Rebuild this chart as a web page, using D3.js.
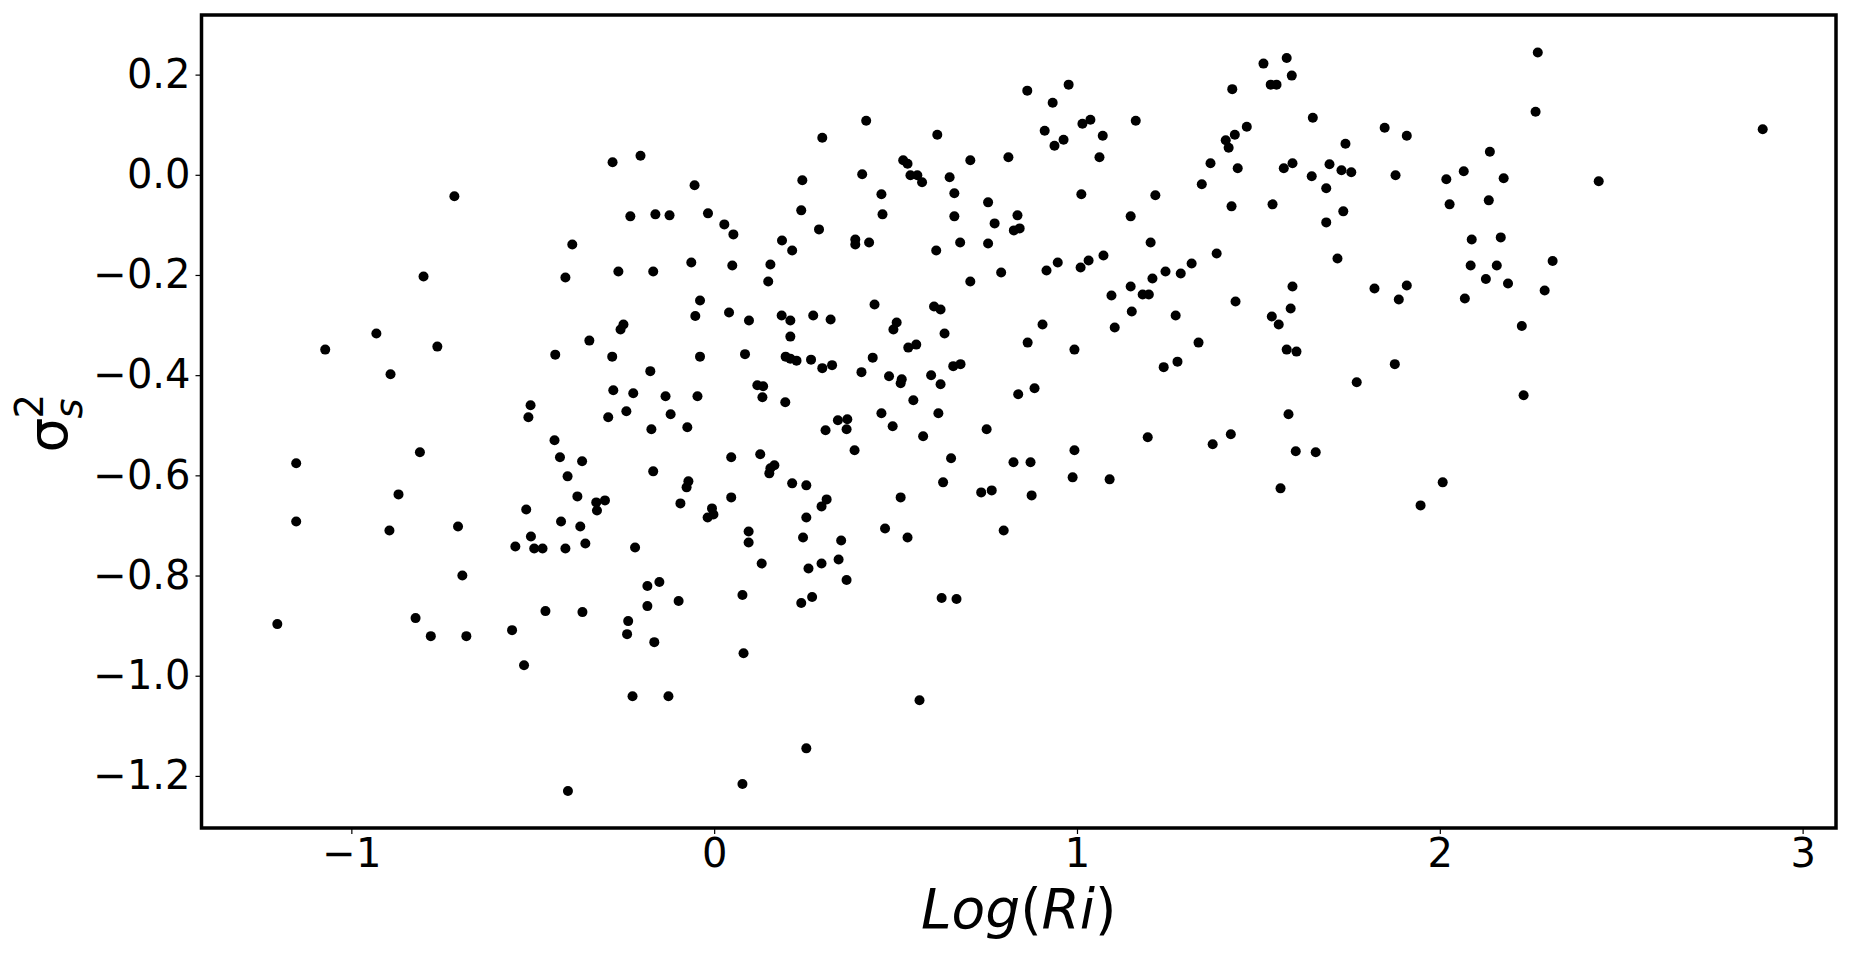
<!DOCTYPE html>
<html><head><meta charset="utf-8">
<script src="https://cdn.jsdelivr.net/npm/d3@7"></script>
<style>body{margin:0;background:#fff}svg{display:block}</style>
</head><body>
<svg id="chart" width="1850" height="955"></svg>
<script>
// Log(Ri) values
const logRi = [
-0.716,-0.391,-0.801,-0.410,-0.931,-1.072,-0.763,-0.892,-0.344,-0.438,-0.281,-0.278,-0.506,-0.512,-0.292,
0.419,0.298,0.615,-0.203,-0.280,0.706,0.811,0.408,0.521,0.533,0.541,0.560,0.573,0.649,0.243,-0.054,0.461,0.662,0.755,0.240,-0.231,-0.162,-0.123,-0.017,0.464,0.662,
0.836,0.826,0.842,0.028,0.053,0.289,0.773,0.187,0.215,0.389,0.389,0.427,0.678,0.755,0.612,-0.264,-0.168,-0.063,0.050,0.155,0.149,0.706,0.791,-0.039,-0.052,0.041,
0.096,0.186,0.210,0.210,0.273,0.321,0.442,0.606,0.624,0.503,0.494,0.635,-0.250,-0.258,-0.039,0.085,0.197,0.210,0.227,0.267,0.298,0.325,0.437,0.535,0.557,
0.659,0.679,-0.176,0.406,0.482,0.517,0.514,0.598,0.624,-0.223,-0.134,-0.046,0.119,0.135,0.133,0.196,0.549,0.838,-0.242,-0.120,0.341,0.367,0.461,0.618,
1.578,1.514,1.592,1.534,1.550,1.428,0.863,0.977,0.933,1.650,
1.162,1.015,1.037,0.911,0.963,0.938,1.071,1.062,1.468,1.435,
1.410,1.418,1.848,1.909,1.740,1.368,1.443,1.570,1.594,1.696,
1.729,1.756,1.647,1.878,1.344,1.687,1.012,1.216,1.426,1.539,
1.734,1.687,1.148,1.203,1.385,1.718,0.916,0.947,1.010,1.032,
1.073,1.244,1.208,1.286,1.316,1.148,1.181,1.198,1.095,1.151,
1.104,1.272,1.437,1.594,1.589,1.537,1.556,1.820,1.909,1.887,
0.905,0.864,0.993,1.335,1.239,1.277,1.578,1.605,1.876,1.771,
0.883,1.583,
2.270,2.264,2.890,2.138,2.066,2.018,2.176,2.438,2.027,2.135,2.088,2.168,2.311,2.085,2.157,2.127,2.188,2.289,2.069,2.226,2.231,
-0.440,-1.152,-0.811,-0.425,-0.364,-0.404,-0.870,-0.377,-0.325,-0.301,-0.323,-0.518,-1.152,-0.895,-0.706,-0.422,-0.369,-0.505,-0.548,-0.496,-0.473,-0.410,-0.355,-0.694,-1.204,-0.823,-0.781,-0.683,-0.557,-0.465,-0.363,-0.524,-0.403,
-0.173,-0.074,0.307,0.365,0.492,0.576,0.751,0.387,0.047,0.127,0.166,0.155,0.152,0.653,0.825,-0.168,-0.071,-0.076,-0.093,0.215,0.254,0.047,-0.006,-0.002,-0.018,0.310,0.296,0.254,0.631,0.514,0.736,0.765,-0.218,0.095,0.095,0.245,0.350,0.471,0.533,0.798,0.131,0.260,0.296,0.343,0.365,-0.184,-0.151,-0.098,-0.184,0.078,0.240,0.270,0.627,0.668,-0.237,-0.240,-0.165,0.081,-0.225,-0.126,0.566,0.254,0.078,
0.872,0.875,0.993,0.988,1.090,1.195,1.374,1.424,1.603,1.658,1.561,1.947,2.008
];
// sigma_s^2 values
const sigma2 = [
-0.043,-0.139,-0.203,-0.205,-0.317,-0.349,-0.343,-0.398,-0.331,-0.359,-0.363,-0.430,-0.460,-0.484,-0.484,
0.108,0.074,0.080,0.038,0.025,0.029,0.035,0.001,0.029,0.022,-0.001,-0.001,-0.015,-0.005,-0.011,-0.021,-0.039,-0.037,-0.055,-0.071,-0.083,-0.079,-0.081,-0.077,-0.079,-0.083,
-0.081,-0.111,-0.107,-0.099,-0.119,-0.109,-0.097,-0.131,-0.151,-0.129,-0.139,-0.135,-0.135,-0.137,-0.151,-0.193,-0.193,-0.175,-0.181,-0.179,-0.213,-0.213,-0.195,-0.251,-0.282,-0.275,
-0.291,-0.281,-0.291,-0.323,-0.281,-0.289,-0.259,-0.263,-0.269,-0.295,-0.309,-0.317,-0.299,-0.309,-0.363,-0.358,-0.363,-0.367,-0.371,-0.369,-0.386,-0.380,-0.365,-0.345,-0.339,
-0.382,-0.378,-0.392,-0.394,-0.402,-0.408,-0.416,-0.400,-0.418,-0.436,-0.442,-0.442,-0.420,-0.422,-0.444,-0.454,-0.450,-0.438,-0.472,-0.478,-0.490,-0.488,-0.476,-0.476,
0.233,0.222,0.198,0.180,0.180,0.171,0.168,0.180,0.144,0.114,
0.108,0.102,0.110,0.088,0.070,0.058,0.078,0.035,0.096,0.080,
0.069,0.054,0.094,0.078,0.062,0.023,0.013,0.013,0.023,0.021,
0.009,0.005,-0.003,-0.001,-0.019,-0.027,-0.039,-0.041,-0.063,-0.059,
-0.073,-0.095,-0.083,-0.135,-0.157,-0.167,-0.191,-0.175,-0.185,-0.171,
-0.161,-0.193,-0.207,-0.197,-0.177,-0.223,-0.239,-0.239,-0.241,-0.273,
-0.305,-0.281,-0.253,-0.223,-0.267,-0.283,-0.299,-0.227,-0.221,-0.249,
-0.299,-0.335,-0.349,-0.335,-0.384,-0.373,-0.349,-0.353,-0.378,-0.414,
-0.426,-0.478,
0.244,0.126,0.091,0.046,0.007,-0.009,-0.007,-0.013,-0.059,-0.051,-0.129,-0.125,-0.172,-0.181,-0.181,-0.208,-0.217,-0.231,-0.247,-0.302,-0.440,
-0.530,-0.576,-0.554,-0.564,-0.572,-0.602,-0.638,-0.642,-0.654,-0.650,-0.670,-0.668,-0.692,-0.710,-0.702,-0.692,-0.702,-0.722,-0.742,-0.746,-0.746,-0.746,-0.736,-0.800,-0.897,-0.885,-0.921,-0.921,-0.909,-0.871,-0.873,-0.979,-1.230,
-0.508,-0.504,-0.510,-0.508,-0.502,-0.522,-0.508,-0.550,-0.564,-0.558,-0.580,-0.586,-0.596,-0.566,-0.574,-0.592,-0.612,-0.624,-0.656,-0.616,-0.620,-0.644,-0.666,-0.678,-0.684,-0.648,-0.662,-0.684,-0.614,-0.644,-0.634,-0.630,-0.744,-0.712,-0.734,-0.724,-0.730,-0.706,-0.724,-0.710,-0.776,-0.786,-0.776,-0.768,-0.809,-0.821,-0.813,-0.851,-0.861,-0.839,-0.855,-0.843,-0.845,-0.847,-0.891,-0.917,-0.933,-0.955,-1.041,-1.041,-1.049,-1.145,-1.216,
-0.574,-0.640,-0.550,-0.604,-0.608,-0.524,-0.538,-0.518,-0.552,-0.554,-0.626,-0.660,-0.614
];
const xTicks = [-1, 0, 1, 2, 3];
const yTicks = [0.2, 0.0, -0.2, -0.4, -0.6, -0.8, -1.0, -1.2];
const xDomain = [-1.413, 3.092];
const yDomain = [-1.304, 0.319];

if (logRi.length !== sigma2.length) console.error("length mismatch", logRi.length, sigma2.length);

const M = {left: 201.5, right: 1836, top: 15, bottom: 828};
const svg = d3.select("#chart");
const FONT = "'DejaVu Sans', sans-serif";

const x = d3.scaleLinear().domain(xDomain).range([M.left, M.right]);
const y = d3.scaleLinear().domain(yDomain).range([M.bottom, M.top]);

const data = logRi.map((v, i) => ({x: v, y: sigma2[i]}));

svg.append("g").selectAll("circle").data(data).join("circle")
  .attr("cx", d => x(d.x)).attr("cy", d => y(d.y)).attr("r", 5).attr("fill", "#000");

const xAxis = svg.append("g").attr("transform", `translate(0,${M.bottom})`)
  .call(d3.axisBottom(x).tickValues(xTicks).tickFormat(d3.format("d")).tickSize(6).tickPadding(5).tickSizeOuter(0));
const yAxis = svg.append("g").attr("transform", `translate(${M.left},0)`)
  .call(d3.axisLeft(y).tickValues(yTicks).tickFormat(d3.format(".1f")).tickSize(6).tickPadding(5).tickSizeOuter(0));
[xAxis, yAxis].forEach(g => {
  g.select(".domain").remove();
  g.selectAll(".tick line").attr("stroke", "#000").attr("stroke-width", 1.2);
  g.selectAll(".tick text").attr("fill", "#000").style("font-family", FONT).style("font-size", "40px");
});

// frame
svg.append("rect").attr("x", M.left).attr("y", M.top)
  .attr("width", M.right - M.left).attr("height", M.bottom - M.top)
  .attr("fill", "none").attr("stroke", "#000").attr("stroke-width", 3.5);

// x label
const xl = svg.append("text").attr("x", (M.left + M.right) / 2).attr("y", 928)
  .attr("text-anchor", "middle").style("font-family", FONT).style("font-size", "55px").attr("fill", "#000");
xl.append("tspan").style("font-style", "italic").text("Log");
xl.append("tspan").text("(");
xl.append("tspan").style("font-style", "italic").text("Ri");
xl.append("tspan").text(")");

// y label sigma_s^2
const yl = svg.append("g").attr("transform", `translate(67,${(M.top + M.bottom) / 2}) rotate(-90)`)
  .style("font-family", FONT).attr("fill", "#000");
yl.append("text").attr("x", -31).attr("y", 0).style("font-size", "55px").text("σ");
yl.append("text").attr("x", 3).attr("y", 15).style("font-size", "38.5px").style("font-style", "italic").text("s");
yl.append("text").attr("x", 3).attr("y", -24).style("font-size", "38.5px").text("2");
</script>
</body></html>
